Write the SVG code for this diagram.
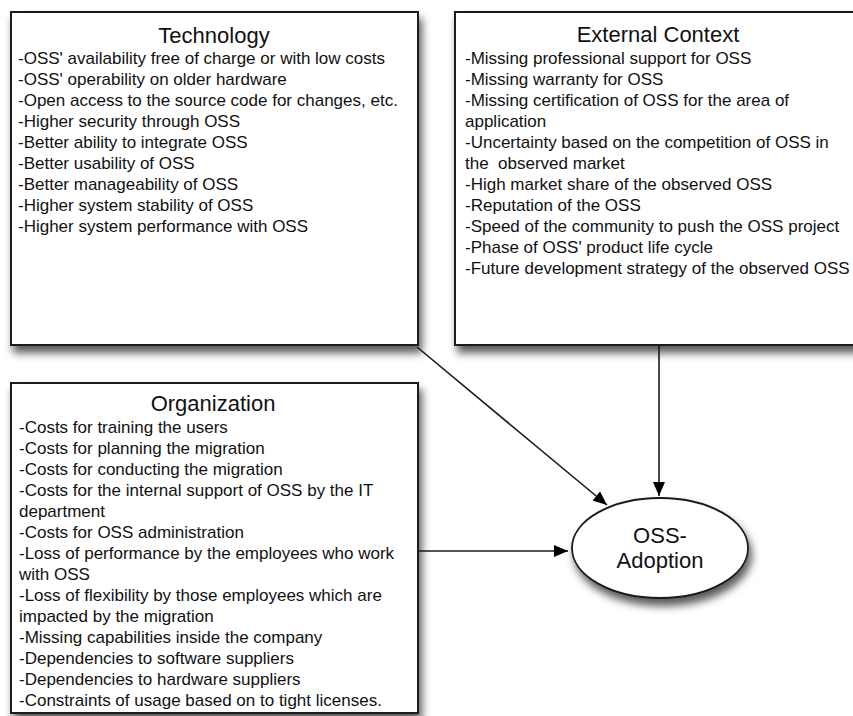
<svg xmlns="http://www.w3.org/2000/svg" width="853" height="716" viewBox="0 0 853 716">
<style>
.box{fill:#fff;stroke:#1a1a1a;stroke-width:2;filter:url(#sh)}
.title{font-family:"Liberation Sans",Arial,sans-serif;font-size:22px;fill:#111;text-anchor:middle}
.body{font-family:"Liberation Sans",Arial,sans-serif;font-size:17px;fill:#111}
.conn{stroke:#1a1a1a;stroke-width:1.6;fill:none;marker-end:url(#ah)}
</style>
<defs>
<filter id="sh" x="-10%" y="-10%" width="130%" height="130%">
<feDropShadow dx="3" dy="7" stdDeviation="4.5" flood-color="#000" flood-opacity="0.65"/>
</filter>
<marker id="ah" viewBox="0 0 14 12" refX="14" refY="6" markerWidth="14" markerHeight="12" markerUnits="userSpaceOnUse" orient="auto">
<path d="M0,0 L14,6 L0,12 Z" fill="#000"/>
</marker>
</defs>
<rect width="853" height="716" fill="#fff"/>
<g id="technology">
<rect class="box" x="11" y="12" width="407" height="333"/>
<text class="title" x="214" y="43">Technology</text>
<text class="body" x="18" y="64">-OSS' availability free of charge or with low costs</text>
<text class="body" x="18" y="85">-OSS' operability on older hardware</text>
<text class="body" x="18" y="106">-Open access to the source code for changes, etc.</text>
<text class="body" x="18" y="127">-Higher security through OSS</text>
<text class="body" x="18" y="148">-Better ability to integrate OSS</text>
<text class="body" x="18" y="169">-Better usability of OSS</text>
<text class="body" x="18" y="190">-Better manageability of OSS</text>
<text class="body" x="18" y="211">-Higher system stability of OSS</text>
<text class="body" x="18" y="232">-Higher system performance with OSS</text>
</g>
<g id="external">
<rect class="box" x="455" y="12" width="407" height="333"/>
<text class="title" x="658" y="42">External Context</text>
<text class="body" x="465" y="64">-Missing professional support for OSS</text>
<text class="body" x="465" y="85">-Missing warranty for OSS</text>
<text class="body" x="465" y="106">-Missing certification of OSS for the area of</text>
<text class="body" x="465" y="127">application</text>
<text class="body" x="465" y="148">-Uncertainty based on the competition of OSS in</text>
<text class="body" x="465" y="169" xml:space="preserve">the  observed market</text>
<text class="body" x="465" y="190">-High market share of the observed OSS</text>
<text class="body" x="465" y="211">-Reputation of the OSS</text>
<text class="body" x="465" y="232">-Speed of the community to push the OSS project</text>
<text class="body" x="465" y="253">-Phase of OSS' product life cycle</text>
<text class="body" x="465" y="274">-Future development strategy of the observed OSS</text>
</g>
<g id="organization">
<rect class="box" x="11" y="383" width="407" height="330"/>
<text class="title" x="213" y="411">Organization</text>
<text class="body" x="19" y="433">-Costs for training the users</text>
<text class="body" x="19" y="454">-Costs for planning the migration</text>
<text class="body" x="19" y="475">-Costs for conducting the migration</text>
<text class="body" x="19" y="496">-Costs for the internal support of OSS by the IT</text>
<text class="body" x="19" y="517">department</text>
<text class="body" x="19" y="538">-Costs for OSS administration</text>
<text class="body" x="19" y="559">-Loss of performance by the employees who work</text>
<text class="body" x="19" y="580">with OSS</text>
<text class="body" x="19" y="601">-Loss of flexibility by those employees which are</text>
<text class="body" x="19" y="622">impacted by the migration</text>
<text class="body" x="19" y="643">-Missing capabilities inside the company</text>
<text class="body" x="19" y="664">-Dependencies to software suppliers</text>
<text class="body" x="19" y="685">-Dependencies to hardware suppliers</text>
<text class="body" x="19" y="706">-Constraints of usage based on to tight licenses.</text>
</g>
<g id="adoption">
<ellipse cx="660" cy="548" rx="88" ry="50" fill="#fff" stroke="#1a1a1a" stroke-width="1.8" filter="url(#sh)"/>
<text class="title" x="660" y="543">OSS-</text>
<text class="title" x="660" y="568">Adoption</text>
</g>
<g id="connectors">
<line class="conn" x1="417" y1="347" x2="607" y2="505"/>
<line class="conn" x1="659" y1="345" x2="659" y2="496"/>
<line class="conn" x1="418" y1="551" x2="568" y2="551"/>
</g>
</svg>
